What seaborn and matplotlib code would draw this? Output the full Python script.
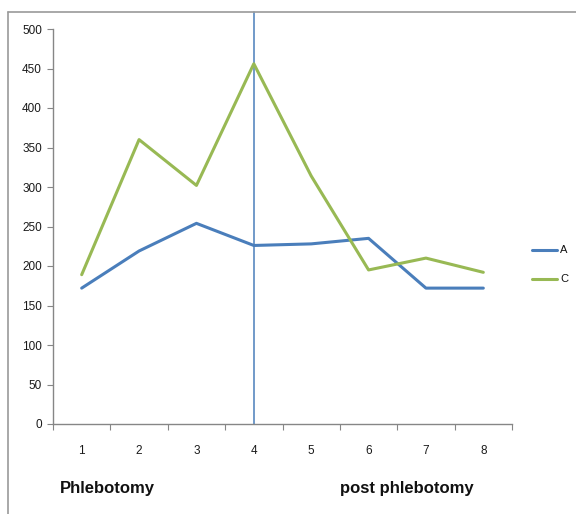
import matplotlib
matplotlib.use("Agg")
import matplotlib.pyplot as plt
from matplotlib.lines import Line2D
from matplotlib.ticker import FixedLocator, NullFormatter
import seaborn as sns
import pandas as pd

# Measurements per visit
visits = [1, 2, 3, 4, 5, 6, 7, 8]
series_a = [172, 219, 254, 226, 228, 235, 172, 172]
series_c = [189, 360, 302, 456, 314, 195, 210, 192]
series_names = ["A", "C"]
y_ticks = [0, 50, 100, 150, 200, 250, 300, 350, 400, 450, 500]
phase_split = 4

df = pd.DataFrame({
    "visit": visits * 2,
    "value": series_a + series_c,
    "series": [series_names[0]] * len(visits) + [series_names[1]] * len(visits),
})

sns.set_theme(style="white")
plt.rcParams["font.family"] = ["Liberation Sans", "DejaVu Sans"]

fig = plt.figure(figsize=(5.76, 5.14), dpi=100)
ax = fig.add_axes([53 / 576, 1 - 424 / 514, (512 - 53) / 576, (424 - 29) / 514])

palette = {"A": "#4A7EBB", "C": "#98B954"}
sns.lineplot(data=df, x="visit", y="value", hue="series", palette=palette,
             linewidth=2.2, ax=ax, legend=False)

ax.set_xlim(0.5, 8.5)
ax.set_ylim(0, 500)
ax.set_xlabel("")
ax.set_ylabel("")

axis_col = "#868686"
for side in ["top", "right"]:
    ax.spines[side].set_visible(False)
for side in ["left", "bottom"]:
    ax.spines[side].set_color(axis_col)
    ax.spines[side].set_linewidth(1.0)

ax.set_yticks(y_ticks)
ax.tick_params(axis="y", which="major", length=4, width=0.8, color=axis_col,
               labelsize=8.5, pad=4, labelcolor="#1a1a1a", left=True)
ax.set_xticks(visits)
ax.set_xticklabels([str(v) for v in visits])
ax.tick_params(axis="x", which="major", length=0, labelsize=8.5, pad=15,
               labelcolor="#1a1a1a")
ax.xaxis.set_minor_locator(FixedLocator([v + 0.5 for v in [0] + visits]))
ax.xaxis.set_minor_formatter(NullFormatter())
ax.tick_params(axis="x", which="minor", length=4, width=0.8, color=axis_col,
               bottom=True)

# Divider between the two phases, reaching up to the frame
ax.axvline(phase_split, ymin=0, ymax=(424 - 12) / 395, color="#4A7EBB",
           linewidth=1.1, clip_on=False, zorder=1)

# Legend
for name, y in zip(series_names, [250, 279]):
    yf = 1 - y / 514
    fig.add_artist(Line2D([532 / 576, 557 / 576], [yf, yf], color=palette[name],
                          linewidth=2.2, transform=fig.transFigure))
    fig.text(560 / 576, yf, name, fontsize=8, va="center", ha="left",
             color="#111111")

# Phase captions
fig.text(60 / 576, 1 - 488 / 514, "Phlebotomy", fontsize=12, fontweight="bold",
         va="center", ha="left", color="#111111")
fig.text(340 / 576, 1 - 488 / 514, "post phlebotomy", fontsize=12,
         fontweight="bold", va="center", ha="left", color="#111111")

# Outer frame (top and left edges)
fig.add_artist(Line2D([8 / 576, 8 / 576], [0, 1 - 12 / 514], color="#9a9a9a",
                      linewidth=1.2, transform=fig.transFigure))
fig.add_artist(Line2D([8 / 576, 1], [1 - 12 / 514, 1 - 12 / 514], color="#9a9a9a",
                      linewidth=1.2, transform=fig.transFigure))

fig.savefig("out.png", dpi=100, facecolor="white")
